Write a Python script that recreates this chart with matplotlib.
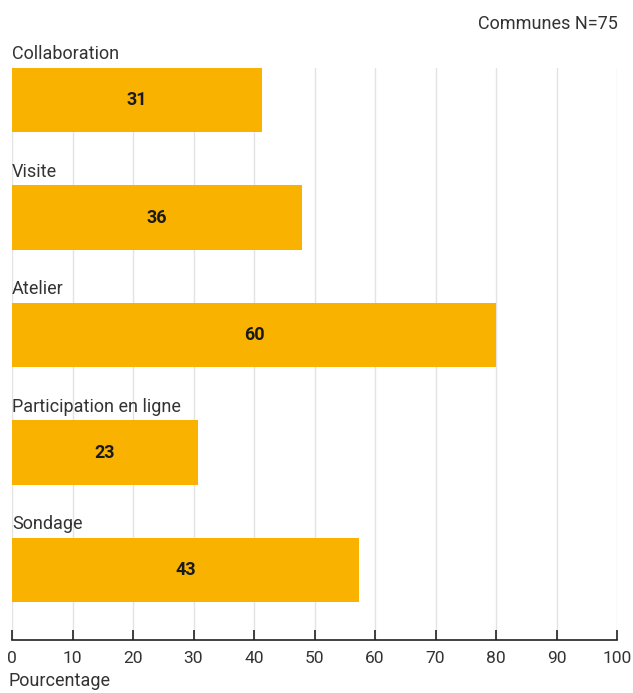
import numpy as np
import matplotlib.pyplot as plt

plt.rcParams['font.family'] = ['Roboto', 'DejaVu Sans']

categories = ['Collaboration', 'Visite', 'Atelier', 'Participation en ligne', 'Sondage']
counts = [31, 36, 60, 23, 43]
percent = [41.3, 48.0, 80.0, 30.7, 57.3]

bar_color = '#F9B200'
text_color = '#333333'

fig = plt.figure(figsize=(6.33, 6.93), dpi=100)
ax = fig.add_axes([12/633, 53/693, 605/633, 572/693])

y = np.arange(len(categories))
ax.barh(y, percent, height=0.545, color=bar_color, zorder=2)

for i in range(len(categories)):
    ax.text(0, y[i] - 0.39, categories[i], ha='left', va='center',
            fontsize=13, color=text_color)
    ax.text(percent[i] / 2, y[i], str(counts[i]), ha='center', va='center',
            fontsize=13, fontweight='bold', color='#1a1a1a', zorder=3)

ax.set_xlim(0, 100)
ax.set_ylim(4 + 70/117.5, -32/117.5)
ax.set_xticks(np.arange(0, 101, 10))
ax.set_yticks([])
ax.xaxis.grid(True, color='#e3e3e3', linewidth=1, zorder=0)

for s in ['top', 'right', 'left']:
    ax.spines[s].set_visible(False)
ax.spines['bottom'].set_color('#222222')
ax.spines['bottom'].set_linewidth(1.2)
ax.tick_params(axis='x', direction='in', length=7, width=1.2, color='#222222',
               labelsize=12.5, labelcolor=text_color, pad=8)

ax.set_xlabel('Pourcentage', fontsize=13, color=text_color,
              loc='left', labelpad=4)
ax.xaxis.label.set_x(-4/605)
fig.text(618/633, 1 - 24/693, 'Communes N=75', ha='right', va='center',
         fontsize=13, color=text_color)

fig.savefig('out.png', dpi=100)
